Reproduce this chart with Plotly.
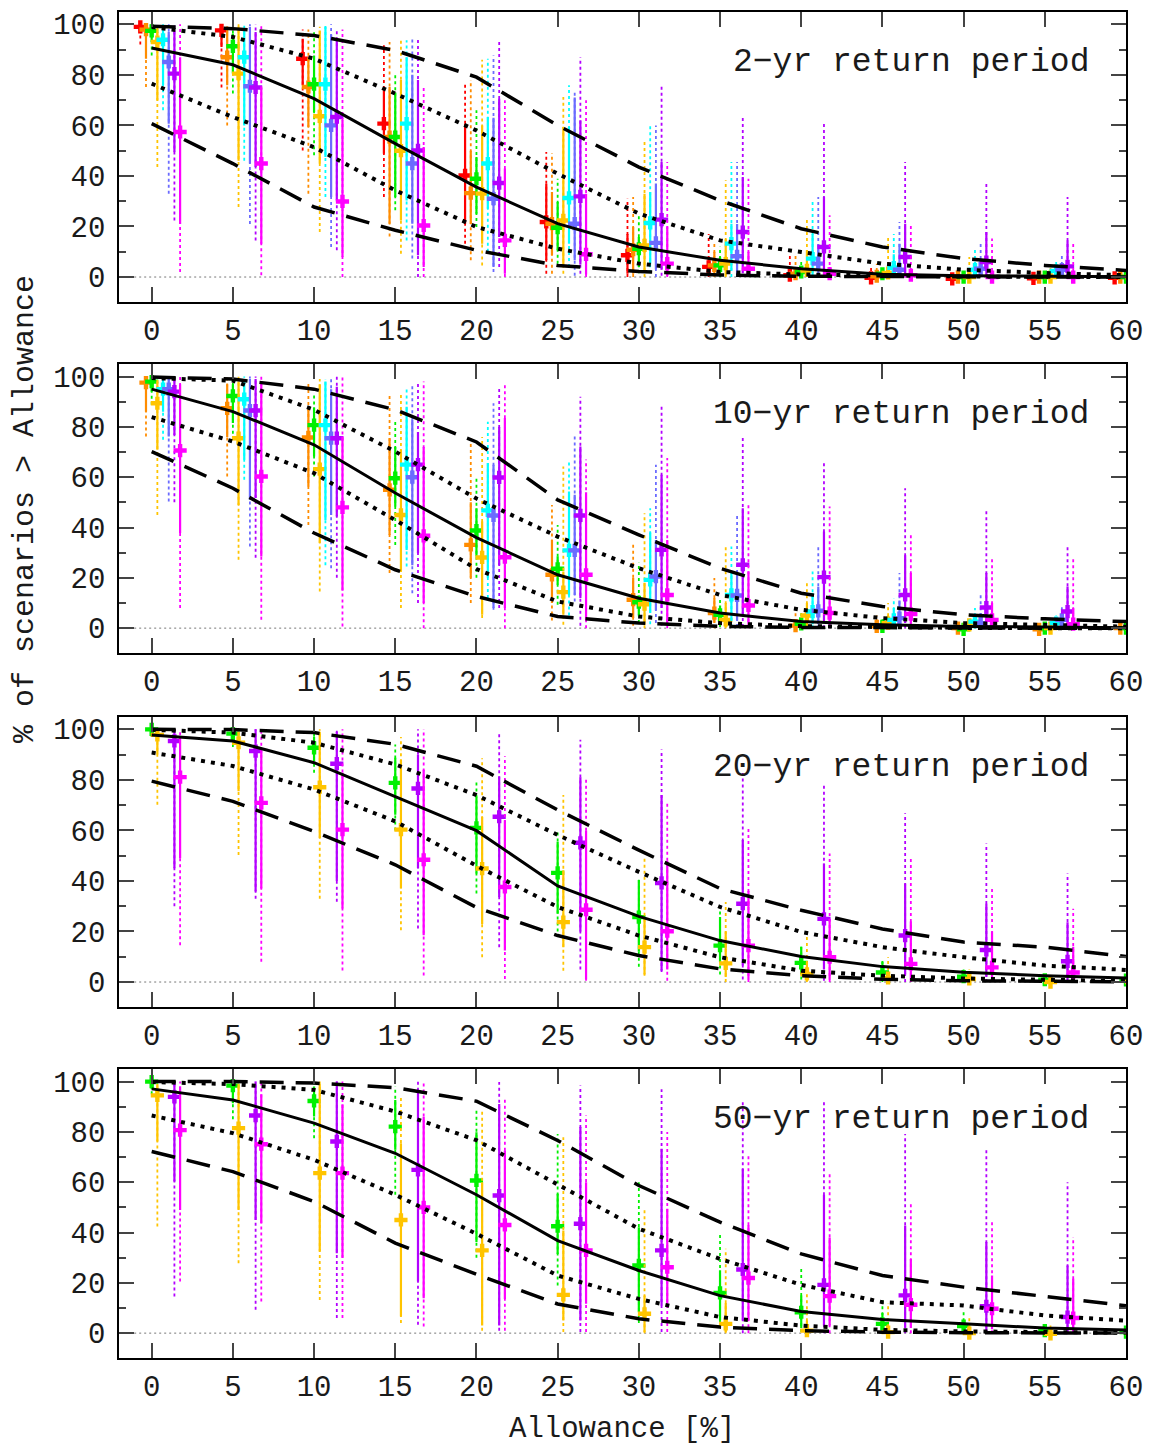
import plotly.graph_objects as go

# ---------------- data ----------------
ALLOW = [0, 5, 10, 15, 20, 25, 30, 35, 40, 45, 50, 55, 60]
X_TICKS = [0, 5, 10, 15, 20, 25, 30, 35, 40, 45, 50, 55, 60]
Y_TICKS = [0, 20, 40, 60, 80, 100]
Y_MINOR = [10, 30, 50, 70, 90]
PANEL_LABELS = ["2\u2212yr return period", "10\u2212yr return period",
                "20\u2212yr return period", "50\u2212yr return period"]
X_TITLE = "Allowance [%]"
Y_TITLE = "% of scenarios > Allowance"

SERIES_COLORS = {"red": "#ff0000", "orange": "#ff8c00", "green": "#00f000",
                 "gold": "#ffc400", "cyan": "#00ffff", "blue": "#6b6bff",
                 "purple": "#b300ff", "magenta": "#ff00ff"}
SERIES_OFFSETS = {"red": -0.7, "orange": -0.35, "green": 0.0, "gold": 0.35,
                  "cyan": 0.7, "blue": 1.05, "purple": 1.4, "magenta": 1.75}

# ---- panel 1 : 2-yr ----
P1_MEDIAN = [90.6, 84, 70.6, 52.8, 35.6, 21.1, 11.9, 6.6, 3.3, 1.1, 0.5, 0.2, 0.1]
P1_UP_DOT = [98.9, 95, 86.4, 72.6, 58, 40.9, 25.1, 14.5, 9.9, 5.3, 2.9, 1.6, 0.7]
P1_LO_DOT = [76.5, 63.3, 51.4, 34.3, 19.8, 11.2, 5.3, 2, 1, 0.5, 0.2, 0.1, 0]
P1_UP_DASH = [99.2, 98.3, 95.6, 89.7, 79.1, 60, 43.5, 30.3, 19.1, 11.9, 7.3, 4.6, 2.6]
P1_LO_DASH = [60.7, 44.9, 27.7, 18.5, 10.6, 4.6, 2.2, 0.8, 0.3, 0.1, 0, 0, 0]

P1_RED = dict(mid=[99, 97.6, 86.4, 60.7, 40.2, 21.8, 8.6, 4.0, 0.7, -0.3, -0.7, -0.5, -0.3],
              s_lo=[97, 91, 75.9, 48.8, 21.1, 6.6, 1.3, 1.0, 0, 0, 0, 0, 0],
              s_hi=[100, 99.3, 94.3, 73.9, 60.7, 36.9, 17, 8, 2, 1, 0.5, 0.3, 0.2],
              d_lo=[92, 75, 50.1, 31.7, 13.2, 1.3, 0, 0, 0, 0, 0, 0, 0],
              d_hi=[100, 100, 98, 91.7, 76.5, 49.5, 31, 17, 9.2, 4, 2, 1, 0.5])
P1_ORANGE = dict(mid=[97.9, 87, 75.2, 55.4, 33.2, 21.1, 10.8, 4.6, 1.3, 0.3, 0, 0, 0],
                 s_lo=[86.4, 75.9, 59.4, 21.1, 21, 8.6, 1.3, 0.5, 0, 0, 0, 0, 0],
                 s_hi=[99.3, 99, 87, 75.2, 50, 33.6, 19.8, 10, 3, 1.5, 0.5, 0.3, 0.2],
                 d_lo=[75.2, 60, 33, 16, 6.6, 1.3, 0, 0, 0, 0, 0, 0, 0],
                 d_hi=[100, 100, 98, 93, 78, 49, 31.7, 13.2, 9, 5.3, 2, 1, 0.5])
P1_GREEN = dict(mid=[97.4, 91.3, 76.3, 55.4, 38.9, 19.5, 11.2, 4.6, 2, 1.3, 0, 0, 0],
                s_lo=[93, 80.5, 65.3, 31.7, 25, 10.6, 4, 1, 0.5, 0, 0, 0, 0],
                s_hi=[100, 96.3, 87.7, 73, 47.5, 29.7, 15.8, 8, 4, 2.5, 1, 0.5, 0.3],
                d_lo=[87.7, 72.6, 48.2, 26.4, 19.8, 5.3, 1.5, 0, 0, 0, 0, 0, 0],
                d_hi=[100, 99, 97, 81, 66, 38.9, 25, 12, 6.6, 4, 2, 1, 0.5])
P1_GOLD = dict(mid=[93, 80.5, 63.6, 50, 33, 22.4, 12.5, 5.3, 2.6, 1.6, 0, 0, 0],
               s_lo=[69.9, 46, 44.9, 22.4, 13.2, 4, 2, 0.5, 0, 0, 0, 0, 0],
               s_hi=[98.3, 99, 97.6, 78, 60, 59.4, 33, 15, 10.6, 5, 2, 1, 0.5],
               d_lo=[43.5, 27.7, 17.8, 9.2, 4.6, 1.3, 0, 0, 0, 0, 0, 0, 0],
               d_hi=[100, 100, 99, 93.7, 86, 71.2, 53.4, 38.3, 23.1, 15.8, 7.9, 4, 2])
P1_CYAN = dict(mid=[93.9, 87, 76.3, 60.7, 44.9, 31.3, 21.4, 13.2, 7.3, 3.7, 2.9, 2.4, 1],
               s_lo=[76, 60, 47.5, 30.3, 27, 13.2, 5.3, 2.6, 1, 0.5, 0.3, 0.3, 0],
               s_hi=[98, 98, 99, 87, 63.3, 59.4, 33.6, 21.1, 17, 9, 6, 4, 2],
               d_lo=[66, 46, 31.7, 14.5, 10, 4, 1.5, 0, 0, 0, 0, 0, 0],
               d_hi=[100, 100, 100, 93.7, 86.4, 75.9, 60.7, 45.5, 29.7, 17, 11.2, 6.6, 3])
P1_BLUE = dict(mid=[85.1, 75.5, 60, 44.9, 31, 21.1, 13.5, 8.2, 5.3, 2.9, 3.3, 2.9, 1],
               s_lo=[60.7, 44.9, 31.7, 21.1, 4, 6.6, 3, 1, 0.5, 0.3, 0.3, 0.3, 0],
               s_hi=[97, 99, 96, 80, 63, 71, 37, 21, 13, 13.2, 7, 5, 2],
               d_lo=[33, 21, 11.9, 7.3, 2, 0.5, 0, 0, 0, 0, 0, 0, 0],
               d_hi=[100, 100, 100, 95, 87.7, 73, 60, 45.5, 31.7, 21.8, 13.9, 8.6, 4])
P1_PURPLE = dict(mid=[80.5, 75, 63.3, 50.1, 37.2, 31.9, 22.7, 17.8, 11.9, 7.9, 5.9, 4.2, 2],
                 s_lo=[49.5, 43.5, 30.3, 8.6, 15.8, 5, 3, 1.5, 1, 0.5, 0.3, 0.3, 0],
                 s_hi=[97.6, 97, 94, 78, 70.6, 62, 45.5, 39.6, 31.7, 21.1, 17.8, 14.5, 8],
                 d_lo=[22.4, 14.5, 10.6, 0, 4, 1.3, 0.5, 0, 0, 0, 0, 0, 0],
                 d_hi=[100, 100, 98, 94, 93.7, 87, 75.9, 64, 60.7, 45.5, 37.6, 31.7, 20])
P1_MAGENTA = dict(mid=[57.4, 44.9, 29.9, 20.4, 14.5, 9, 5.3, 3.3, 1.3, 0.7, 0, 0, 0],
                  s_lo=[21, 13.2, 7.9, 4, 1.3, 1, 0.5, 0, 0, 0, 0, 0, 0],
                  s_hi=[87, 75, 62, 51.5, 42.9, 33, 20, 10, 4, 2, 1, 0.5, 0.3],
                  d_lo=[2, 0.7, 0, 0, 0, 0, 0, 0, 0, 0, 0, 0, 0],
                  d_hi=[100, 100, 98, 75.9, 70, 70, 45.5, 38.9, 24.4, 20.4, 15.2, 13.2, 8])

# ---- panel 2 : 10-yr ----
P2_MEDIAN = [95, 86.1, 72.9, 53.7, 36, 21.2, 11.9, 6, 2.6, 1.3, 0.7, 0.4, 0.2]
P2_UP_DOT = [99.4, 98.4, 86.8, 70.2, 51.5, 36.4, 23.8, 13.2, 7.3, 4, 2, 1.2, 0.6]
P2_LO_DOT = [83.9, 74.2, 61.6, 43, 23.5, 10.6, 4.6, 2, 0.8, 0.3, 0.1, 0, 0]
P2_UP_DASH = [99.8, 99, 95, 86.8, 74, 51, 37.1, 23.8, 13.9, 8.6, 5.3, 3.7, 2.6]
P2_LO_DASH = [70.2, 55.6, 37.8, 23.2, 12.6, 4.6, 2, 0.7, 0.3, 0.1, 0, 0, 0]

P2_ORANGE = dict(mid=[97.6, 87.4, 75.8, 55, 33.1, 21.2, 11.3, 6, 1, 0.7, 0, -0.5, 0],
                 s_lo=[86, 76, 56.3, 37, 20, 10, 4, 2, 0, 0, 0, 0, 0],
                 s_hi=[99.4, 97, 87, 75.5, 50, 35, 20, 12, 3, 1.5, 0.5, 0.3, 0.2],
                 d_lo=[76.2, 60.3, 41, 21.9, 10, 3, 1, 0, 0, 0, 0, 0, 0],
                 d_hi=[100, 100, 98, 93, 76, 49, 34, 19.9, 9, 5, 2, 1, 0.5])
P2_GREEN = dict(mid=[98, 92.3, 80.7, 59.6, 38.8, 23.6, 10.3, 5.3, 1.7, 0.7, -0.5, 0, 0],
                s_lo=[94, 81.5, 68.2, 48.4, 28.5, 17.2, 5, 2, 0.5, 0, 0, 0, 0],
                s_hi=[100, 97, 87.7, 72, 47.7, 28.5, 13, 9, 4, 2, 1, 0.5, 0.3],
                d_lo=[88.8, 74.9, 60.3, 33.1, 20, 9.3, 2, 0.5, 0, 0, 0, 0, 0],
                d_hi=[100, 100, 93, 82, 60, 41, 26, 12, 7, 4, 2, 1, 0.5])
P2_GOLD = dict(mid=[89.4, 75.5, 63.2, 45, 28.1, 14.3, 9.5, 3.3, 5, 2, 1.3, 0, 0],
               s_lo=[70.9, 49, 33.8, 22.5, 5.3, 5.3, 1.3, 0.5, 1, 0.5, 0, 0, 0],
               s_hi=[98, 98, 97, 70.9, 42.4, 22.5, 18, 10, 10, 5, 3, 1, 0.5],
               d_lo=[45, 27.2, 14.6, 8, 4, 1.3, 0, 0, 0, 0, 0, 0, 0],
               d_hi=[100, 100, 99, 93, 76, 64.3, 45.7, 32.5, 17.9, 10, 5, 2, 1])
P2_CYAN = dict(mid=[95, 91, 80.7, 65, 46.8, 30.9, 19.2, 13.2, 6.6, 3.3, 2.6, 2, 1],
               s_lo=[86, 66.9, 43, 31.1, 20, 13, 6, 3, 1.5, 0.5, 0.3, 0.3, 0],
               s_hi=[99, 98, 98, 88, 65.6, 54.3, 38, 22.5, 14, 8, 5, 4, 2],
               d_lo=[74.9, 59, 25, 24.5, 12, 5, 1.5, 0.5, 0, 0, 0, 0, 0],
               d_hi=[100, 100, 99, 96, 82, 66.2, 47.7, 32.5, 22.5, 12, 8, 5, 3])
P2_BLUE = dict(mid=[95, 86.5, 75.5, 60, 44.8, 30.9, 20.5, 13, 6.9, 4, 2, 3.3, 1],
               s_lo=[76.2, 51, 45, 25, 8, 13.2, 7, 3, 1.5, 0.5, 0.3, 0.3, 0],
               s_hi=[99, 99, 95, 83, 65, 53, 35, 22.5, 16.5, 11, 6, 5, 2],
               d_lo=[50.3, 32.5, 23.8, 13.9, 7.3, 10.6, 2, 0.5, 0, 0, 0, 0, 0],
               d_hi=[100, 100, 100, 97, 89.4, 76.8, 65, 45.7, 33, 21.9, 13.9, 9, 4])
P2_PURPLE = dict(mid=[94, 86.5, 75.5, 65, 59.9, 44.8, 31.1, 25.2, 20.3, 13.2, 8.2, 6.6, 3],
                 s_lo=[76.8, 51.7, 44.4, 29.8, 25, 12, 8, 5, 3, 2, 1, 1, 0],
                 s_hi=[99, 99, 96, 78, 80, 72.2, 61, 47.7, 38.4, 29, 21.9, 16.6, 10],
                 d_lo=[50, 28, 20, 10, 8, 1, 1, 0.5, 0, 0, 0, 0, 0],
                 d_hi=[100, 100, 100, 98, 96, 92, 88, 76.8, 65.6, 55.6, 47, 33, 20])
P2_MAGENTA = dict(mid=[70.6, 60.3, 48, 36.7, 28.2, 21.2, 13.2, 9, 6, 5.6, 3.3, 1.6, 1],
                  s_lo=[37.8, 28.5, 15, 10, 8, 3, 1.5, 1, 0.5, 0.5, 0.3, 0, 0],
                  s_hi=[97, 98, 76.2, 72, 83.5, 54, 35, 22.5, 13, 21.9, 10, 8, 4],
                  d_lo=[8, 3.3, 0.7, 0, 0, 0, 0, 0, 0, 0, 0, 0, 0],
                  d_hi=[100, 100, 100, 98, 97, 67, 67.6, 49, 48.4, 37, 28.5, 28.5, 15])

# ---- panel 3 : 20-yr ----
P3_MEDIAN = [97.8, 95.4, 86.8, 73.5, 59.9, 38, 26, 16.4, 10.1, 6.1, 3.9, 2.5, 1.6]
P3_UP_DOT = [99.8, 98.7, 94.7, 86.1, 74, 58.2, 43.6, 29.7, 19.8, 13.8, 9.8, 6.5, 4.8]
P3_LO_DOT = [90.8, 85.5, 76.2, 63.6, 46, 29.7, 18.4, 9.8, 4.5, 2.5, 1.4, 0.8, 0.4]
P3_UP_DASH = [100, 99.9, 98.7, 94.1, 85.4, 68.1, 52.2, 37, 28.4, 21, 15.8, 13.8, 10.1]
P3_LO_DASH = [79.5, 71.5, 59.6, 46.4, 29.5, 18.4, 10.5, 5.2, 2.5, 1.1, 0.5, 0.2, 0.1]

P3_GREEN = dict(mid=[100, 98.3, 92.7, 78.8, 61, 43.2, 25.7, 14.4, 7.6, 3.8, 2.1, 0.9, 0.8],
                s_lo=[98, 95, 87.4, 66.2, 42.9, 27, 12, 7.8, 3, 1, 0.5, 0, 0],
                s_hi=[100, 100, 97, 88.8, 73.4, 55.5, 40.4, 25.7, 14, 8, 4, 2, 1.5],
                d_lo=[97, 93, 82.8, 60, 35, 20, 6, 3, 1, 0, 0, 0, 0],
                d_hi=[100, 100, 99, 94, 80, 60, 41, 30, 14, 9, 5, 3, 2])
P3_GOLD = dict(mid=[97.8, 94.7, 77.1, 60.3, 44.9, 23.7, 13.8, 7.4, 3.2, 1.6, 1.2, 0, 0],
               s_lo=[90, 75.5, 57, 37, 23, 13.8, 3, 2, 0.5, 0, 0, 0, 0],
               s_hi=[99.4, 99, 99, 88, 65.4, 44.2, 25, 20, 8, 4, 2, 1, 0.5],
               d_lo=[70.2, 50.3, 33, 20.5, 9.8, 4.5, 2.5, 0, 0, 0, 0, 0, 0],
               d_hi=[100, 100, 100, 97, 88.6, 74, 49.5, 31.7, 20.4, 9.8, 5, 2, 1])
P3_PURPLE = dict(mid=[95.4, 91.4, 86.4, 76.6, 65.4, 55.1, 39.2, 31, 25, 18.4, 12.7, 8.2, 4],
                 s_lo=[45, 35.8, 40, 45, 33.6, 20, 4.5, 6.5, 5, 3, 2, 1, 0],
                 s_hi=[100, 100, 99, 90, 81.3, 81, 74, 56.2, 46.9, 39, 31, 23.7, 15],
                 d_lo=[30, 33, 31.8, 21.2, 13.8, 5, 4, 1, 0.5, 0, 0, 0, 0],
                 d_hi=[100, 100, 100, 100, 99.2, 95.9, 92, 82.7, 78.7, 66.8, 54.8, 42.9, 30])
P3_MAGENTA = dict(mid=[81.1, 70.9, 60.3, 48.4, 37.6, 28.6, 20.1, 14.4, 9.8, 7.2, 5.8, 3.8, 2],
                  s_lo=[49, 37, 29.1, 18.5, 12.5, 1, 5, 1, 1, 0.5, 0.3, 0.3, 0],
                  s_hi=[97, 91.4, 82.8, 84, 64, 60, 48, 36, 25, 24, 20, 14, 8],
                  d_lo=[14.6, 8, 4.6, 2.6, 1.2, 0.5, 0.5, 0, 0, 0, 0, 0, 0],
                  d_hi=[100, 100, 100, 100, 89.3, 80.7, 71.4, 60.8, 50.9, 48.9, 37.6, 29, 18])

# ---- panel 4 : 50-yr ----
P4_MEDIAN = [97.1, 92.7, 83.5, 71.5, 55, 36.8, 24.9, 14.9, 8.6, 5.4, 3.7, 2, 1.2]
P4_UP_DOT = [99.8, 99, 96.7, 88.1, 76.7, 59.3, 41.5, 29.5, 19.2, 12.3, 11, 7, 5]
P4_LO_DOT = [86.5, 79.5, 68.9, 55, 39.5, 22.9, 13.6, 6.4, 3, 1.3, 0.7, 0.4, 0.2]
P4_UP_DASH = [100, 100, 99.4, 97.6, 92.2, 76.6, 58.7, 44.1, 31.5, 22.9, 18.3, 14.7, 10.9]
P4_LO_DASH = [72.2, 64.2, 52.3, 35.8, 23.4, 11.6, 5.7, 2.4, 1, 0.4, 0.2, 0.1, 0]

P4_GREEN = dict(mid=[100, 98.4, 92.3, 82.1, 60.7, 42.5, 26.9, 16, 8.3, 3.7, 2.8, 1, 0.4],
                s_lo=[97, 91.4, 86.1, 72.9, 36.2, 31.5, 8.3, 5, 2, 1, 0.5, 0, 0],
                s_hi=[100, 100, 98, 92.7, 79.9, 55.4, 42.1, 25, 15, 8, 5, 3, 1.5],
                d_lo=[95, 85, 77.5, 55, 30, 18.9, 4, 2, 0.5, 0, 0, 0, 0],
                d_hi=[100, 100, 100, 98, 88.5, 79.2, 60, 40, 25.6, 14.3, 9, 4, 2])
P4_GOLD = dict(mid=[94.5, 81.5, 63.6, 45, 32.9, 15.2, 7.7, 3.7, 1, 0.4, 0, -0.3, 0],
               s_lo=[76.2, 49, 32.5, 6.6, 3, 5, 0.5, 0.5, 0, 0, 0, 0, 0],
               s_hi=[99, 99, 99, 75.5, 60, 40.8, 15, 12, 5, 2, 1, 0.5, 0.3],
               d_lo=[42.4, 27.8, 13.2, 4, 1, 0.5, 0, 0, 0, 0, 0, 0, 0],
               d_hi=[100, 100, 100, 94, 88, 77.9, 49.4, 33.5, 16.3, 12, 6, 3, 1])
P4_PURPLE = dict(mid=[93.9, 86.5, 76.2, 64.9, 54.7, 43.5, 32.9, 25.3, 19.2, 15, 10.7, 6.4, 3],
                 s_lo=[60.3, 45, 31.8, 20.5, 3, 5, 11, 5, 3, 2, 1, 0.5, 0],
                 s_hi=[100, 100, 100, 96, 91.1, 81.9, 73.3, 65.3, 55, 42.8, 36.2, 26.9, 18],
                 d_lo=[14.6, 9.3, 6, 3.3, 1, 0.5, 0.5, 0, 0, 0, 0, 0, 0],
                 d_hi=[100, 100, 100, 100, 99.8, 98.4, 97, 92.5, 91.8, 79.2, 73.3, 60, 45])
P4_MAGENTA = dict(mid=[80.7, 75.1, 63.6, 50, 43, 32.9, 26.2, 21.9, 14.7, 11.3, 9.7, 6, 3],
                  s_lo=[49, 43.7, 30, 13.9, 13.6, 11.7, 11, 5, 3, 2, 1.5, 0.5, 0],
                  s_hi=[98, 95, 91, 86, 72.6, 60, 49.4, 43, 38, 29.5, 22.9, 21.6, 12],
                  d_lo=[20.5, 12.6, 6, 2.6, 1, 0.5, 0.5, 0, 0, 0, 0, 0, 0],
                  d_hi=[100, 100, 100, 100, 93.8, 86.5, 80, 70.6, 64, 51.4, 44.1, 38.2, 25])

PANELS = [
    dict(series=[("red", P1_RED), ("orange", P1_ORANGE), ("green", P1_GREEN), ("gold", P1_GOLD),
                 ("cyan", P1_CYAN), ("blue", P1_BLUE), ("purple", P1_PURPLE), ("magenta", P1_MAGENTA)],
         lines=(P1_MEDIAN, P1_UP_DOT, P1_LO_DOT, P1_UP_DASH, P1_LO_DASH)),
    dict(series=[("orange", P2_ORANGE), ("green", P2_GREEN), ("gold", P2_GOLD), ("cyan", P2_CYAN),
                 ("blue", P2_BLUE), ("purple", P2_PURPLE), ("magenta", P2_MAGENTA)],
         lines=(P2_MEDIAN, P2_UP_DOT, P2_LO_DOT, P2_UP_DASH, P2_LO_DASH)),
    dict(series=[("green", P3_GREEN), ("gold", P3_GOLD), ("purple", P3_PURPLE), ("magenta", P3_MAGENTA)],
         lines=(P3_MEDIAN, P3_UP_DOT, P3_LO_DOT, P3_UP_DASH, P3_LO_DASH)),
    dict(series=[("green", P4_GREEN), ("gold", P4_GOLD), ("purple", P4_PURPLE), ("magenta", P4_MAGENTA)],
         lines=(P4_MEDIAN, P4_UP_DOT, P4_LO_DOT, P4_UP_DASH, P4_LO_DASH)),
]

# ---------------- layout geometry (page pixels) ----------------
W, H = 1156, 1448
PX_LEFT, PX_RIGHT = 119.2, 1126.0
PANEL_PX = [(11.7, 302.3), (364.0, 653.3), (716.7, 1007.3), (1069.0, 1358.3)]
LABEL_Y_PX = [62, 414, 767, 1119]

FONT = "Liberation Mono"
TXT = "#1a1a1a"


def fx(px):
    return px / W


def fy(py):
    return 1 - py / H


def segments(xc, off, lo, hi):
    xs, ys = [], []
    for xv, a, b in zip(xc, lo, hi):
        xs += [xv + off, xv + off, None]
        ys += [a, b, None]
    return xs, ys


fig = go.Figure()
layout = dict(width=W, height=H, autosize=False, margin=dict(l=0, r=0, t=0, b=0, pad=0),
              paper_bgcolor="white", plot_bgcolor="white", showlegend=False,
              font=dict(family=FONT, color=TXT))
shapes, annotations = [], []

for i, panel in enumerate(PANELS):
    n = i + 1
    xa = "x" if n == 1 else f"x{n}"
    ya = "y" if n == 1 else f"y{n}"
    for name, s in panel["series"]:
        col = SERIES_COLORS[name]
        off = SERIES_OFFSETS[name]
        dx, dy = segments(ALLOW, off, s["d_lo"], s["d_hi"])
        fig.add_trace(go.Scatter(x=dx, y=dy, mode="lines", xaxis=xa, yaxis=ya,
                                 line=dict(color=col, width=1.8, dash="3px,3px"),
                                 hoverinfo="skip"))
        sx, sy = segments(ALLOW, off, s["s_lo"], s["s_hi"])
        fig.add_trace(go.Scatter(x=sx, y=sy, mode="lines", xaxis=xa, yaxis=ya,
                                 line=dict(color=col, width=2.2), hoverinfo="skip"))
        fig.add_trace(go.Scatter(x=[v + off for v in ALLOW], y=s["mid"], mode="markers",
                                 xaxis=xa, yaxis=ya,
                                 marker=dict(symbol="cross", size=11, color=col,
                                             line=dict(width=0))))
    med, udot, ldot, udash, ldash = panel["lines"]
    for yy, dash, wd in [(udash, "24px,12px", 3.5), (ldash, "24px,12px", 3.5),
                         (udot, "4px,6px", 4), (ldot, "4px,6px", 4), (med, "solid", 3)]:
        fig.add_trace(go.Scatter(x=ALLOW, y=yy, mode="lines", xaxis=xa, yaxis=ya,
                                 line=dict(color="black", width=wd, dash=dash)))

    top, bot = PANEL_PX[i]
    layout["xaxis" if n == 1 else f"xaxis{n}"] = dict(
        domain=[fx(PX_LEFT), fx(PX_RIGHT)], range=[-2, 60], anchor=ya, automargin=False,
        tickmode="array", tickvals=X_TICKS, ticks="inside", ticklen=15, tickwidth=1.5,
        tickcolor="#444", showline=True, linecolor="black", linewidth=2, mirror="ticks",
        showgrid=False, zeroline=False, ticklabelstandoff=1,
        tickfont=dict(family=FONT, size=29, color=TXT))
    layout["yaxis" if n == 1 else f"yaxis{n}"] = dict(
        domain=[fy(bot), fy(top)], range=[-10, 105], anchor=xa, automargin=False,
        tickmode="array", tickvals=Y_TICKS, ticks="inside", ticklen=15, tickwidth=1.5,
        tickcolor="#444", showline=True, linecolor="black", linewidth=2, mirror="ticks",
        showgrid=False, zeroline=False, ticklabelstandoff=6,
        minor=dict(tickvals=Y_MINOR, ticks="inside", ticklen=7, tickwidth=1.5, tickcolor="#444"),
        tickfont=dict(family=FONT, size=29, color=TXT))
    shapes.append(dict(type="line", xref=f"{xa} domain", yref=ya, x0=0, x1=1, y0=0, y1=0,
                       line=dict(color="#777", width=1, dash="2px,3px"), layer="below"))
    annotations.append(dict(text=PANEL_LABELS[i], xref="paper", yref="paper",
                            x=fx(1091), y=fy(LABEL_Y_PX[i]), xanchor="right", yanchor="middle",
                            showarrow=False, font=dict(family=FONT, size=33, color=TXT)))

annotations.append(dict(text=Y_TITLE, xref="paper", yref="paper", x=fx(25), y=fy(509),
                        textangle=-90, xanchor="center", yanchor="middle", showarrow=False,
                        font=dict(family=FONT, size=30, color=TXT)))
annotations.append(dict(text=X_TITLE, xref="paper", yref="paper", x=fx(622), y=fy(1429),
                        xanchor="center", yanchor="middle", showarrow=False,
                        font=dict(family=FONT, size=29, color=TXT)))
layout["shapes"] = shapes
layout["annotations"] = annotations
fig.update_layout(**layout)

# remove the default page margin so the figure sits at the window's top-left corner
PAGE_JS = ("document.documentElement.style.margin='0';document.body.style.margin='0';"
           "document.documentElement.style.overflow='hidden';document.body.style.overflow='hidden';")
fig.write_html("out.html", config={"responsive": False, "displayModeBar": False},
               post_script=PAGE_JS)
